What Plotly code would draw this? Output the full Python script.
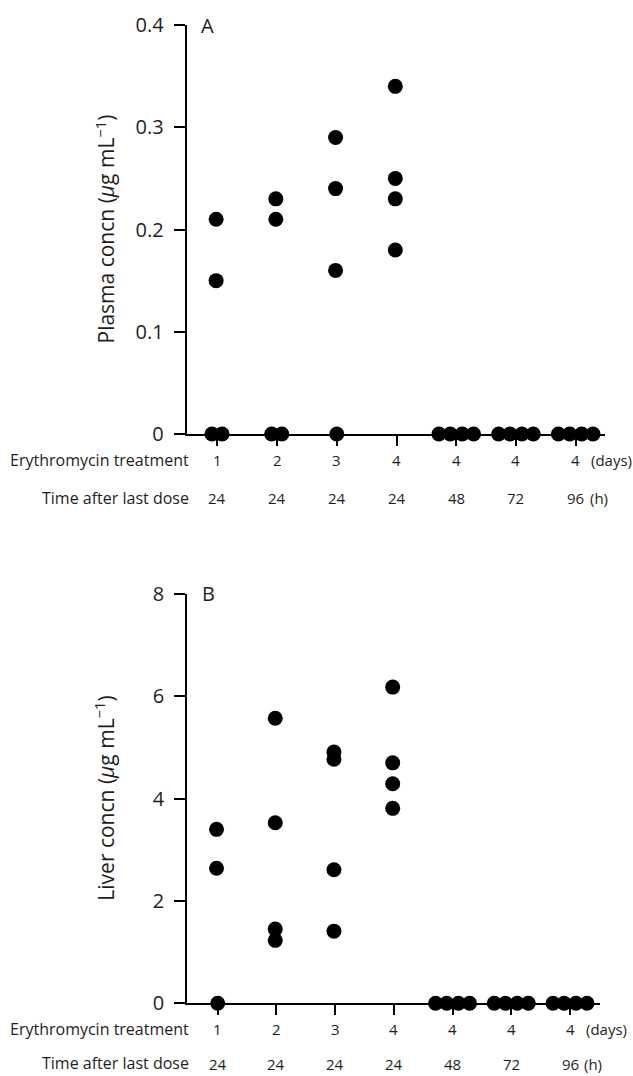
import plotly.graph_objects as go

# ---------------- data ----------------
treatment_days = ["1", "2", "3", "4", "4", "4", "4"]
hours_after_dose = ["24", "24", "24", "24", "48", "72", "96"]

plasma_group = [1, 1, 1, 1, 2, 2, 2, 2, 3, 3, 3, 3, 4, 4, 4, 4,
                5, 5, 5, 5, 6, 6, 6, 6, 7, 7, 7, 7]
plasma_value = [0.21, 0.15, 0, 0, 0.23, 0.21, 0, 0, 0.29, 0.24, 0.16, 0,
                0.34, 0.25, 0.23, 0.18, 0, 0, 0, 0, 0, 0, 0, 0, 0, 0, 0, 0]

liver_group = [1, 1, 1, 2, 2, 2, 2, 3, 3, 3, 3, 4, 4, 4, 4,
               5, 5, 5, 5, 6, 6, 6, 6, 7, 7, 7, 7]
liver_value = [3.40, 2.64, 0, 5.57, 3.53, 1.45, 1.23, 4.91, 4.77, 2.61, 1.41,
               6.18, 4.70, 4.29, 3.81, 0, 0, 0, 0, 0, 0, 0, 0, 0, 0, 0, 0]

plasma_ticks = [0, 0.1, 0.2, 0.3, 0.4]
plasma_ticktext = ["0", "0.1", "0.2", "0.3", "0.4"]
liver_ticks = [0, 2, 4, 6, 8]
liver_ticktext = ["0", "2", "4", "6", "8"]

# ---------------- helpers ----------------
W, H = 633, 1076
FONT = "Open Sans"
INK = "#1e1e1e"


def px_x(p):
    return p / W


def px_y(p):
    return 1 - p / H


ZERO_SPREAD = {1: [0.0], 2: [-0.09, 0.08], 3: [-0.2, 0.0, 0.2],
               4: [-0.29, -0.1, 0.1, 0.29]}


def spread(groups, values):
    xs = []
    zero_counts = {}
    for g, v in zip(groups, values):
        if v == 0:
            zero_counts[g] = zero_counts.get(g, 0) + 1
    seen = {}
    for g, v in zip(groups, values):
        if v == 0:
            k = seen.get(g, 0)
            seen[g] = k + 1
            xs.append(g + ZERO_SPREAD[zero_counts[g]][k])
        else:
            xs.append(g - 0.02)
    return xs


fig = go.Figure()
marker = dict(color="black", size=15, line=dict(width=0))

fig.add_trace(go.Scatter(x=spread(plasma_group, plasma_value), y=plasma_value,
                         mode="markers", marker=marker, cliponaxis=False,
                         xaxis="x", yaxis="y", hoverinfo="skip"))
fig.add_trace(go.Scatter(x=spread(liver_group, liver_value), y=liver_value,
                         mode="markers", marker=marker, cliponaxis=False,
                         xaxis="x2", yaxis="y2", hoverinfo="skip"))

common_x = dict(showline=True, linewidth=2, linecolor="black", ticks="outside",
                ticklen=10, tickwidth=2, tickcolor="black",
                tickvals=list(range(1, len(treatment_days) + 1)),
                showticklabels=False, showgrid=False, zeroline=False,
                automargin=False, layer="below traces", fixedrange=True)
common_y = dict(showline=True, linewidth=2, linecolor="black", ticks="outside",
                ticklen=11, tickwidth=2, tickcolor="black", showgrid=False,
                zeroline=False, layer="below traces", automargin=False,
                tickfont=dict(family=FONT, size=20, color=INK),
                ticklabelstandoff=6, fixedrange=True)

# panel geometry (pixels)
top = dict(x0=186.7, x1=605, y0=25, y1=434, c1=217.3, c7=575.7)
bot = dict(x0=187.3, x1=600, y0=594, y1=1003.3, c1=217.7, c7=570)


def xrange_for(p):
    step = (p["c7"] - p["c1"]) / 6
    return [1 - (p["c1"] - p["x0"]) / step, 7 + (p["x1"] - p["c7"]) / step]


fig.update_layout(
    template="none",
    width=W, height=H,
    margin=dict(l=0, r=0, t=0, b=0, pad=0, autoexpand=False),
    paper_bgcolor="white", plot_bgcolor="white",
    showlegend=False,
    font=dict(family=FONT, color=INK),
    xaxis=dict(domain=[px_x(top["x0"]), px_x(top["x1"])], range=xrange_for(top),
               anchor="y", **common_x),
    yaxis=dict(domain=[px_y(top["y1"]), px_y(top["y0"])], range=[0, 0.4],
               anchor="x", tickvals=plasma_ticks, ticktext=plasma_ticktext,
               **common_y),
    xaxis2=dict(domain=[px_x(bot["x0"]), px_x(bot["x1"])], range=xrange_for(bot),
                anchor="y2", **common_x),
    yaxis2=dict(domain=[px_y(bot["y1"]), px_y(bot["y0"])], range=[0, 8],
                anchor="x2", tickvals=liver_ticks, ticktext=liver_ticktext,
                **common_y),
)

ann = []


def label_rows(xref, base_y):
    row1 = base_y + 26
    row2 = base_y + 64
    # keep the lower text box inside the page
    if row2 + 10 > H:
        y2, anchor2 = px_y(H - 0.5), "bottom"
    else:
        y2, anchor2 = px_y(row2), "middle"
    num_font = dict(family=FONT, size=15, color=INK)
    lab_font = dict(family=FONT, size=16, color=INK)
    for i, (d, h) in enumerate(zip(treatment_days, hours_after_dose)):
        ann.append(dict(x=i + 1, y=px_y(row1), xref=xref, yref="paper", text=d,
                        showarrow=False, xanchor="center", yanchor="middle",
                        font=num_font))
        ann.append(dict(x=i + 1, y=y2, xref=xref, yref="paper", text=h,
                        showarrow=False, xanchor="center", yanchor=anchor2,
                        font=num_font))
    n = len(treatment_days)
    ann.append(dict(x=n, y=px_y(row1), xref=xref, yref="paper", text="(days)",
                    showarrow=False, xanchor="left", yanchor="middle", xshift=13.5,
                    font=num_font))
    ann.append(dict(x=n, y=y2, xref=xref, yref="paper", text="(h)",
                    showarrow=False, xanchor="left", yanchor=anchor2, xshift=12,
                    font=num_font))
    ann.append(dict(x=px_x(191), y=px_y(row1), xref="paper", yref="paper",
                    text="Erythromycin treatment", showarrow=False,
                    xanchor="right", yanchor="middle", font=lab_font))
    ann.append(dict(x=px_x(191), y=y2, xref="paper", yref="paper",
                    text="Time after last dose", showarrow=False,
                    xanchor="right", yanchor=anchor2, font=lab_font))


label_rows("x", top["y1"])
label_rows("x2", bot["y1"])

ann.append(dict(x=px_x(207.5), y=px_y(25), xref="paper", yref="paper", text="A",
                showarrow=False, xanchor="center", yanchor="middle",
                font=dict(family=FONT, size=20, color=INK)))
ann.append(dict(x=px_x(208), y=px_y(594), xref="paper", yref="paper", text="B",
                showarrow=False, xanchor="center", yanchor="middle",
                font=dict(family=FONT, size=20, color=INK)))

ann.append(dict(x=px_x(105), y=px_y((top["y0"] + top["y1"]) / 2), xref="paper",
                yref="paper", text="Plasma concn (<i>μ</i>g mL<sup>−1</sup>)",
                textangle=-90, showarrow=False, xanchor="center", yanchor="middle",
                font=dict(family=FONT, size=21, color=INK)))
ann.append(dict(x=px_x(105), y=px_y((bot["y0"] + bot["y1"]) / 2), xref="paper",
                yref="paper", text="Liver concn (<i>μ</i>g mL<sup>−1</sup>)",
                textangle=-90, showarrow=False, xanchor="center", yanchor="middle",
                font=dict(family=FONT, size=21, color=INK)))

fig.update_layout(annotations=ann)

fig.write_html("out.html")
